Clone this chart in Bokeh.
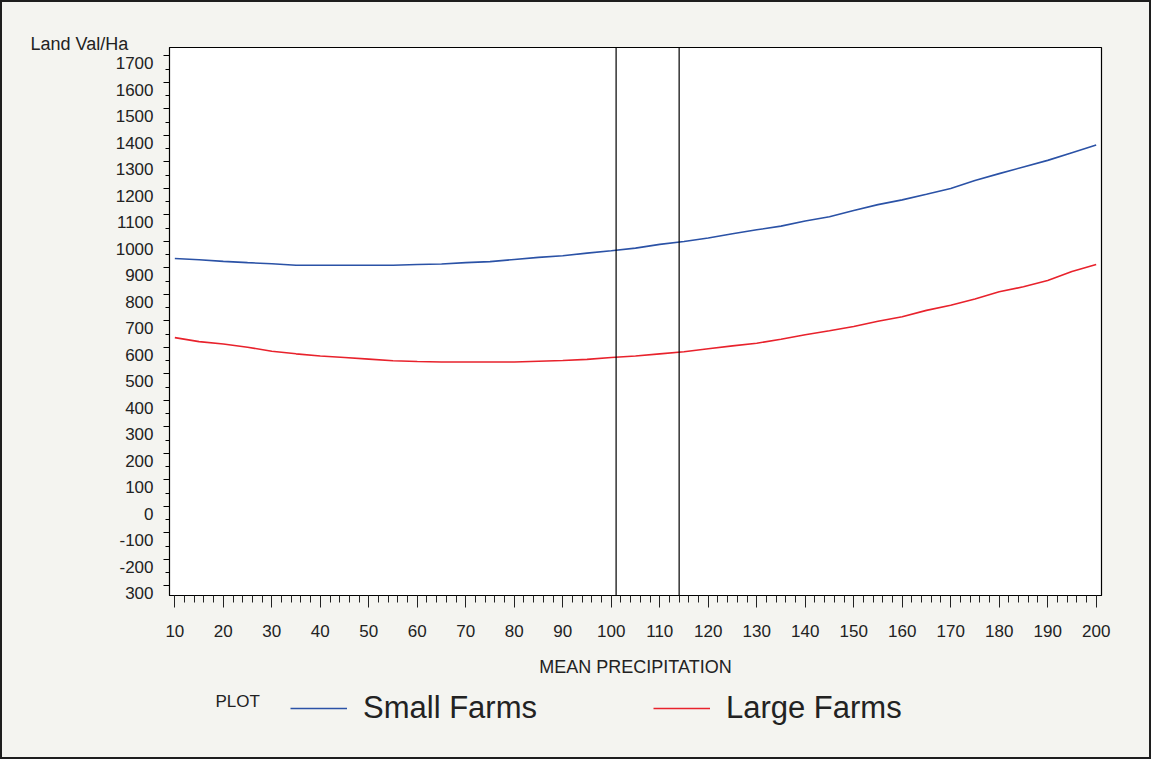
from bokeh.plotting import figure
from bokeh.layouts import column
from bokeh.models import FixedTicker, LinearAxis, Legend, LegendItem, Span, Range1d, Label
from bokeh.embed import file_html
from bokeh.resources import INLINE

# ---------------- data ----------------
precip = [10, 15, 20, 25, 30, 35, 40, 45, 50, 55, 60, 65, 70, 75, 80, 85, 90, 95, 100,
          105, 110, 115, 120, 125, 130, 135, 140, 145, 150, 155, 160, 165, 170, 175,
          180, 185, 190, 195, 200]
small_farms = [936, 931, 925, 920, 916, 910, 910, 910, 910, 910, 913, 915, 920, 924, 932,
               940, 946, 956, 965, 975, 989, 1000, 1013, 1029, 1044, 1058, 1077, 1093,
               1117, 1139, 1157, 1178, 1200, 1230, 1256, 1281, 1306, 1335, 1364]
large_farms = [637, 622, 613, 601, 586, 576, 568, 562, 556, 550, 547, 545, 545, 545, 545,
               548, 551, 555, 562, 568, 576, 584, 595, 606, 616, 631, 648, 663, 679, 699,
               716, 740, 759, 783, 810, 829, 853, 887, 913]
ref_lines = [101, 114]
series_names = ["Small Farms", "Large Farms"]

x_ticks = list(range(10, 201, 10))
x_minor = list(range(10, 201, 2))
y_ticks = list(range(-300, 1701, 100))
y_minor = list(range(-250, 1701, 100))
y_tick_labels = ["300", "-200", "-100", "0", "100", "200", "300", "400", "500", "600",
                 "700", "800", "900", "1000", "1100", "1200", "1300", "1400", "1500",
                 "1600", "1700"]

# ---------------- style / layout ----------------
FONT = "Liberation Sans"
TXT = "#222222"
BLUE = "#2b52a6"
RED = "#e8222c"
BG = "#f4f4f0"
EDGE = 2                     # outer black border of the whole picture

W = 1151 - 2 * EDGE
H1, H2 = 682, 73             # chart part, legend strip
LEFT, RIGHT, TOP, BOTTOM = 167, 48, 45, 89
X0, X1 = 8.9, 201.1
Y0, Y1 = -336, 1732

p = figure(width=W, height=H1, x_range=Range1d(X0, X1), y_range=Range1d(Y0, Y1),
           output_backend="svg", toolbar_location=None,
           min_border_left=LEFT, min_border_right=RIGHT,
           min_border_top=TOP, min_border_bottom=BOTTOM,
           background_fill_color="white", border_fill_color=BG,
           outline_line_color="black", outline_line_width=1.2)
p.grid.visible = False

# y-axis title, printed horizontally at the top left
p.title.text = "Land Val/Ha"
p.title.align = "left"
p.title.offset = -139
p.title.standoff = -12
p.title.vertical_align = "bottom"
p.title.text_font = FONT
p.title.text_font_size = "18px"
p.title.text_font_style = "normal"
p.title.text_color = TXT

# x axis
xa = p.xaxis[0]
xa.ticker = FixedTicker(ticks=x_ticks, minor_ticks=x_minor)
xa.axis_line_color = "black"
xa.major_tick_out = 12
xa.major_tick_in = 0
xa.minor_tick_out = 7
xa.minor_tick_in = 0
xa.major_tick_line_color = "#222222"
xa.minor_tick_line_color = "#222222"
xa.major_label_text_font = FONT
xa.major_label_text_font_size = "17px"
xa.major_label_text_color = TXT
xa.major_label_standoff = 17
xa.axis_label = "MEAN PRECIPITATION"
xa.axis_label_text_font = FONT
xa.axis_label_text_font_size = "18px"
xa.axis_label_text_font_style = "normal"
xa.axis_label_text_color = TXT
xa.axis_label_standoff = 17

# y axis: ticks only (nearest the frame)
ya = p.yaxis[0]
ya.ticker = FixedTicker(ticks=y_ticks, minor_ticks=y_minor)
ya.axis_line_color = "black"
ya.major_tick_out = 6
ya.major_tick_in = 0
ya.minor_tick_out = 4
ya.minor_tick_in = 0
ya.major_label_overrides = {t: "" for t in y_ticks}
ya.major_label_text_alpha = 0
ya.major_label_standoff = 0

# y axis: labels only (the reference prints them ~7 px below their ticks)
LABEL_SHIFT = 27
yb = LinearAxis(ticker=FixedTicker(ticks=[t - LABEL_SHIFT for t in y_ticks], minor_ticks=[]),
                major_label_overrides={t - LABEL_SHIFT: lab for t, lab in zip(y_ticks, y_tick_labels)},
                major_tick_out=0, major_tick_in=0, minor_tick_out=0, minor_tick_in=0,
                axis_line_color=None, major_tick_line_color=None, minor_tick_line_color=None,
                major_label_standoff=10, major_label_text_font=FONT,
                major_label_text_font_size="17px", major_label_text_color=TXT)
p.add_layout(yb, "left")

# series
p.line(precip, small_farms, line_color=BLUE, line_width=1.6)
p.line(precip, large_farms, line_color=RED, line_width=1.6)

for v in ref_lines:
    p.add_layout(Span(location=v, dimension="height", line_color="black", line_width=1.2))

# ---------------- legend strip (x in picture pixels, y in pixels above its bottom) ----------------
q = figure(width=W, height=H2, x_range=Range1d(169, 1101), y_range=Range1d(0, H2),
           output_backend="svg", toolbar_location=None, title=None,
           x_axis_location=None, y_axis_location=None,
           min_border_left=LEFT, min_border_right=RIGHT, min_border_top=0, min_border_bottom=0,
           background_fill_color=None, border_fill_color=None, outline_line_color=None)
q.grid.visible = False

# legend keys: the same series, which fall outside this strip's ranges (only their keys show)
key_small = q.line(precip, small_farms, line_color=BLUE, line_width=1.6)
key_large = q.line(precip, large_farms, line_color=RED, line_width=1.6)

q.add_layout(Label(x=215, y=56, text="PLOT", text_font=FONT, text_font_size="17px",
                   text_color=TXT, text_align="left", text_baseline="middle"))

legend = Legend(items=[LegendItem(label=series_names[0], renderers=[key_small]),
                       LegendItem(label=series_names[1], renderers=[key_large])],
                orientation="horizontal", location=(121, 31),
                label_text_font=FONT, label_text_font_size="31px", label_text_color=TXT,
                glyph_width=57, glyph_height=20, label_standoff=16, spacing=116,
                padding=0, margin=0, border_line_color=None, background_fill_alpha=0)
q.add_layout(legend)

page = column(p, q, spacing=0,
              styles={"border": f"{EDGE}px solid #1e1e1e", "background-color": BG})

open("out.html", "w").write(file_html(page, INLINE))
